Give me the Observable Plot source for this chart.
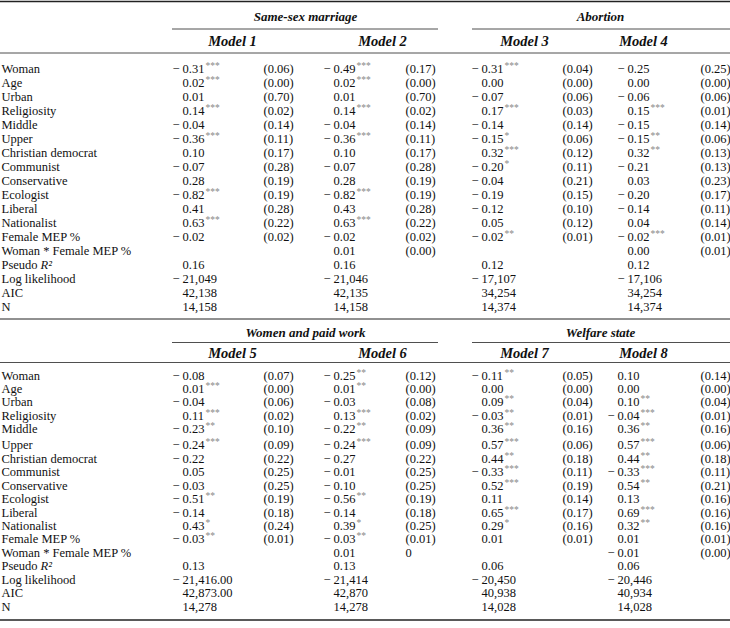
<!DOCTYPE html>
<html>
<head>
<meta charset="utf-8">
<script src="https://cdn.jsdelivr.net/npm/d3@7"></script>
<script src="https://cdn.jsdelivr.net/npm/@observablehq/plot@0.6"></script>
<style>
  html, body { margin: 0; padding: 0; background: #fff; }
  #chart svg { display: block; }
</style>
</head>
<body>
<div id="chart"></div>
<script>
// ---------- DATA ----------
const rowLabels = ["Woman","Age","Urban","Religiosity","Middle","Upper","Christian democrat","Communist","Conservative","Ecologist","Liberal","Nationalist","Female MEP %","Woman * Female MEP %","Pseudo R2","Log likelihood","AIC","N"];
const groups = ["Same-sex marriage","Abortion","Women and paid work","Welfare state"];
const models = ["Model 1","Model 2","Model 3","Model 4","Model 5","Model 6","Model 7","Model 8"];

const coef1 = ["−0.31***","0.02***","0.01","0.14***","−0.04","−0.36***","0.10","−0.07","0.28","−0.82***","0.41","0.63***","−0.02","","0.16","−21,049","42,138","14,158"];
const se1   = ["(0.06)","(0.00)","(0.70)","(0.02)","(0.14)","(0.11)","(0.17)","(0.28)","(0.19)","(0.19)","(0.28)","(0.22)","(0.02)","","","","",""];
const coef2 = ["−0.49***","0.02***","0.01","0.14***","−0.04","−0.36***","0.10","−0.07","0.28","−0.82***","0.43","0.63***","−0.02","0.01","0.16","−21,046","42,135","14,158"];
const se2   = ["(0.17)","(0.00)","(0.70)","(0.02)","(0.14)","(0.11)","(0.17)","(0.28)","(0.19)","(0.19)","(0.28)","(0.22)","(0.02)","(0.00)","","","",""];
const coef3 = ["−0.31***","0.00","−0.07","0.17***","−0.14","−0.15*","0.32***","−0.20*","−0.04","−0.19","−0.12","0.05","−0.02**","","0.12","−17,107","34,254","14,374"];
const se3   = ["(0.04)","(0.00)","(0.06)","(0.03)","(0.14)","(0.06)","(0.12)","(0.11)","(0.21)","(0.15)","(0.10)","(0.12)","(0.01)","","","","",""];
const coef4 = ["−0.25","0.00","−0.06","0.15***","−0.15","−0.15**","0.32**","−0.21","0.03","−0.20","−0.14","0.04","−0.02***","0.00","0.12","−17,106","34,254","14,374"];
const se4   = ["(0.25)","(0.00)","(0.06)","(0.01)","(0.14)","(0.06)","(0.13)","(0.13)","(0.23)","(0.17)","(0.11)","(0.14)","(0.01)","(0.01)","","","",""];
const coef5 = ["−0.08","0.01***","−0.04","0.11***","−0.23**","−0.24***","−0.22","0.05","−0.03","−0.51**","−0.14","0.43*","−0.03**","","0.13","−21,416.00","42,873.00","14,278"];
const se5   = ["(0.07)","(0.00)","(0.06)","(0.02)","(0.10)","(0.09)","(0.22)","(0.25)","(0.25)","(0.19)","(0.18)","(0.24)","(0.01)","","","","",""];
const coef6 = ["−0.25**","0.01**","−0.03","0.13***","−0.22**","−0.24***","−0.27","−0.01","−0.10","−0.56**","−0.14","0.39*","−0.03**","0.01","0.13","−21,414","42,870","14,278"];
const se6   = ["(0.12)","(0.00)","(0.08)","(0.02)","(0.09)","(0.09)","(0.22)","(0.25)","(0.25)","(0.19)","(0.18)","(0.25)","(0.01)","0","","","",""];
const coef7 = ["−0.11**","0.00","0.09**","−0.03**","0.36**","0.57***","0.44**","−0.33***","0.52***","0.11","0.65***","0.29*","0.01","","0.06","−20,450","40,938","14,028"];
const se7   = ["(0.05)","(0.00)","(0.04)","(0.01)","(0.16)","(0.06)","(0.18)","(0.11)","(0.19)","(0.14)","(0.17)","(0.16)","(0.01)","","","","",""];
const coef8 = ["0.10","0.00","0.10**","−0.04***","0.36**","0.57***","0.44**","−0.33***","0.54**","0.13","0.69***","0.32**","0.01","−0.01","0.06","−20,446","40,934","14,028"];
const se8   = ["(0.14)","(0.00)","(0.04)","(0.01)","(0.16)","(0.06)","(0.18)","(0.11)","(0.21)","(0.16)","(0.16)","(0.16)","(0.01)","(0.00)","","","",""];

const coefs = [coef1,coef2,coef3,coef4,coef5,coef6,coef7,coef8];
const ses   = [se1,se2,se3,se4,se5,se6,se7,se8];

// ---------- LAYOUT (style, not data) ----------
const W = 730, H = 628;
const FONT = "Liberation Serif";
const FS = 12.5;
const layout = {
  labelX: 1,
  modelX: [232, 382, 524, 643],
  groupX: [305, 600],
  groupRule: [[172, 438], [472, 730]],
  bottomY: 619.5,
  sections: [
    {top: 1, groupY: 16, groupRuleY: 28.5, modelY: 41, headRuleY: 52.5, y0: 68, step: 14, gap: 0,
     coefX: [182, 333, 481, 627], seX: [263, 405, 562, 700]},
    {top: 318.5, groupY: 332, groupRuleY: 342, modelY: 353, headRuleY: 362, y0: 375, step: 13.45, gap: 2.5,
     coefX: [182, 333, 481, 617], seX: [263, 405, 562, 700]}
  ]
};

// ---------- BUILD CELLS ----------
const labels = [], nums = [], minus = [], stars = [], seCells = [], groupCells = [], modelCells = [], rules = [], rItal = [];
layout.sections.forEach((s, si) => {
  const rowY = i => s.y0 + i * s.step + (i >= 5 ? s.gap : 0);
  rules.push({y: s.top, x1: 0, x2: W, w: si === 0 ? 1.6 : 1});
  rules.push({y: s.headRuleY, x1: 0, x2: W, w: 0.8});
  for (let g = 0; g < 2; g++) {
    groupCells.push({x: layout.groupX[g], y: s.groupY, text: groups[si * 2 + g]});
    rules.push({y: s.groupRuleY, x1: layout.groupRule[g][0], x2: layout.groupRule[g][1], w: 0.8});
  }
  for (let m = 0; m < 4; m++) {
    const mi = si * 4 + m;
    modelCells.push({x: layout.modelX[m], y: s.modelY, text: models[mi]});
    coefs[mi].forEach((v, i) => {
      if (!v) return;
      const neg = v.startsWith("−");
      const body = v.replace("−", "");
      const num = body.replace(/\*+$/, "");
      const st = body.slice(num.length);
      const x = s.coefX[m], y = rowY(i);
      nums.push({x, y, text: num});
      if (neg) minus.push({x: x - 3, y, text: "−"});
      if (st) stars.push({x: x + 23, y, text: st});
    });
    ses[mi].forEach((v, i) => {
      if (!v) return;
      seCells.push({x: s.seX[m], y: rowY(i), text: v});
    });
  }
  rowLabels.forEach((lab, i) => {
    const y = rowY(i);
    if (lab === "Pseudo R2") {
      labels.push({x: layout.labelX, y, text: "Pseudo"});
      rItal.push({x: layout.labelX + 39, y, text: "R²"});
    } else {
      labels.push({x: layout.labelX, y, text: lab});
    }
  });
});
rules.push({y: layout.bottomY, x1: 0, x2: W, w: 1.6});

// ---------- PLOT ----------
const base = {x: "x", y: "y", text: "text", fontFamily: FONT, fill: "#111"};
const chart = Plot.plot({
  width: W, height: H,
  margin: 0,
  x: {type: "linear", domain: [0, W], range: [0, W], axis: null},
  y: {type: "linear", domain: [0, H], range: [0, H], axis: null},
  style: {background: "#fff", fontFamily: FONT},
  marks: [
    Plot.ruleY(rules, {y: "y", x1: "x1", x2: "x2", stroke: "#222", strokeWidth: "w"}),
    Plot.text(labels, {...base, textAnchor: "start", fontSize: FS}),
    Plot.text(rItal, {...base, textAnchor: "start", fontSize: FS, fontStyle: "italic"}),
    Plot.text(nums, {...base, textAnchor: "start", fontSize: FS}),
    Plot.text(minus, {...base, textAnchor: "end", fontSize: FS}),
    Plot.text(stars, {...base, textAnchor: "start", fontSize: 9.5, dy: -3, fill: "#888"}),
    Plot.text(seCells, {...base, textAnchor: "start", fontSize: FS}),
    Plot.text(groupCells, {...base, textAnchor: "middle", fontSize: 13, fontWeight: "bold", fontStyle: "italic"}),
    Plot.text(modelCells, {...base, textAnchor: "middle", fontSize: 14.5, fontWeight: "bold", fontStyle: "italic"})
  ]
});
document.getElementById("chart").appendChild(chart);
</script>
</body>
</html>
